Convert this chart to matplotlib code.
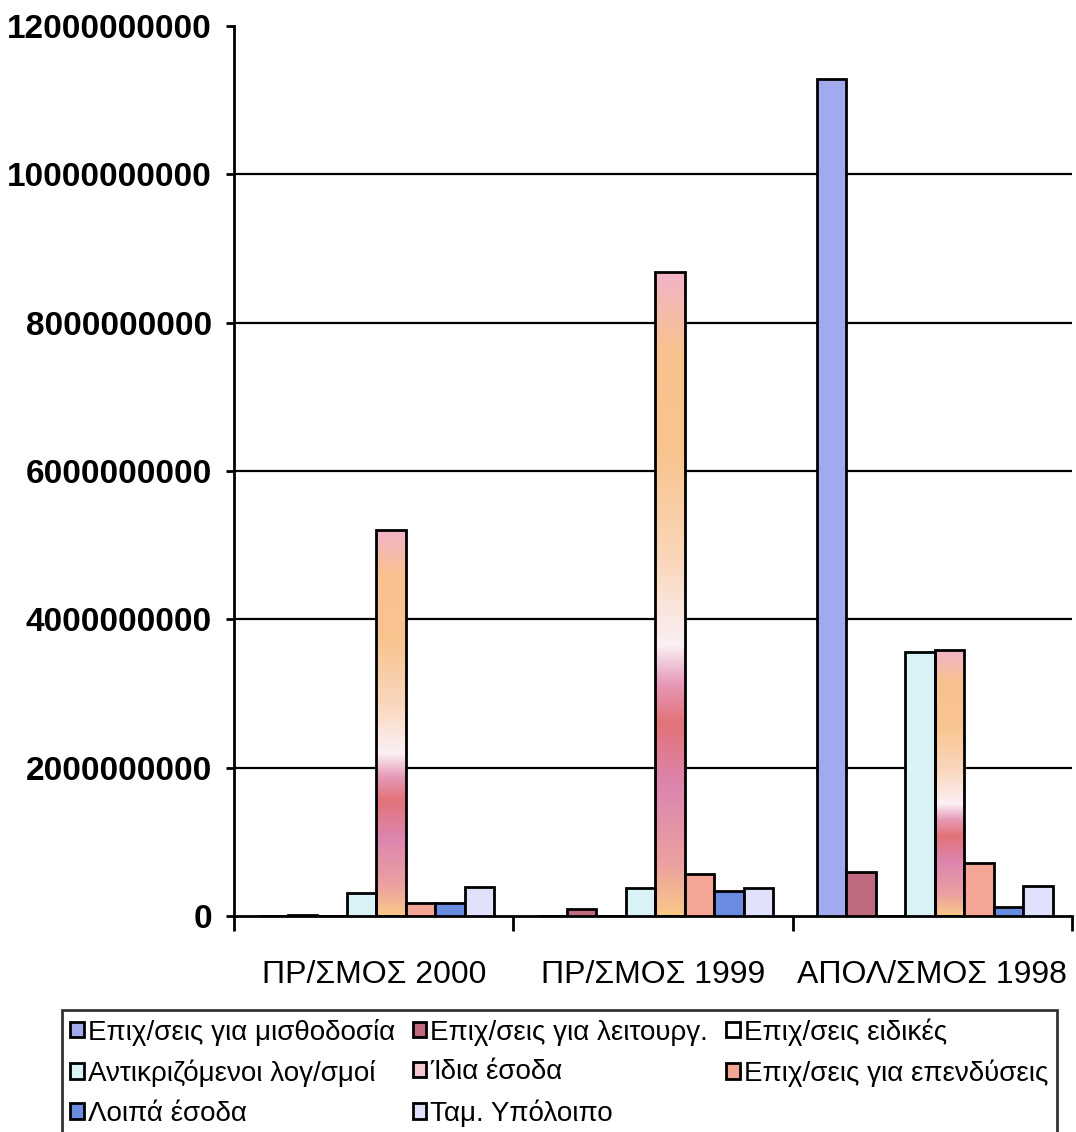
import numpy as np
import matplotlib
matplotlib.use("Agg")
import matplotlib.pyplot as plt
from matplotlib.colors import LinearSegmentedColormap
from matplotlib.patches import Patch

plt.rcParams['font.family'] = ['Liberation Sans', 'DejaVu Sans']

groups = ["ΠΡ/ΣΜΟΣ 2000", "ΠΡ/ΣΜΟΣ 1999", "ΑΠΟΛ/ΣΜΟΣ 1998"]
series = [
    "Επιχ/σεις για μισθοδοσία",
    "Επιχ/σεις για λειτουργ.",
    "Επιχ/σεις ειδικές",
    "Αντικριζόμενοι λογ/σμοί",
    "Ίδια έσοδα",
    "Επιχ/σεις για επενδύσεις",
    "Λοιπά έσοδα",
    "Ταμ. Υπόλοιπο",
]
misthodosia = [0, 0, 11290000000]
leitourg = [15000000, 90000000, 590000000]
eidikes = [0, 0, 0]
antikrizomenoi = [315000000, 374000000, 3560000000]
idia_esoda = [5210000000, 8690000000, 3590000000]
ependyseis = [170000000, 562000000, 710000000]
loipa_esoda = [180000000, 337000000, 117000000]
tam_ypoloipo = [395000000, 382000000, 408000000]
values = [misthodosia, leitourg, eidikes, antikrizomenoi,
          idia_esoda, ependyseis, loipa_esoda, tam_ypoloipo]
yticks = [0, 2000000000, 4000000000, 6000000000, 8000000000,
          10000000000, 12000000000]

colors = ["#a1a9ef", "#c06a80", "#ffffff", "#d9f2f6",
          "#f6c8d2", "#f5a596", "#6a8ce0", "#dfe2fa"]

# gradient used inside the "Ίδια έσοδα" bars (bottom -> top)
fire = LinearSegmentedColormap.from_list("fire", [
    (0.00, "#f9c888"),
    (0.08, "#eca0a0"),
    (0.20, "#dd86b0"),
    (0.30, "#e27378"),
    (0.36, "#e69ab8"),
    (0.42, "#fbf0f5"),
    (0.55, "#fad7bc"),
    (0.72, "#f8c48e"),
    (0.88, "#f8c290"),
    (1.00, "#f2b4c8"),
])

fig = plt.figure(figsize=(10.76, 11.32), dpi=100)
ax = fig.add_axes([0.2175, 0.1908, 0.7788, 0.7862])

n = len(series)
width = 0.1056
x = np.arange(len(groups)) + 0.5085
for i, (name, vals) in enumerate(zip(series, values)):
    pos = x + (i - (n - 1) / 2) * width
    bars = ax.bar(pos, vals, width=width, color=colors[i], edgecolor="black",
                  linewidth=2, zorder=3, label=name)
    if name == "Ίδια έσοδα":
        grad = np.linspace(1, 0, 256).reshape(-1, 1)
        for b in bars:
            b.set_facecolor("none")
            x0, w, h = b.get_x(), b.get_width(), b.get_height()
            im = ax.imshow(grad, cmap=fire, aspect="auto",
                           extent=(x0, x0 + w, 0, h), zorder=2.5,
                           interpolation="bilinear")
            im.set_clip_path(b)

ax.set_xlim(0, 3)
ax.set_ylim(0, 12000000000)
ax.set_yticks(yticks)
ax.set_yticklabels([str(v) for v in yticks], fontsize=24, fontweight="bold")
ax.set_xticks([0, 1, 2, 3])
ax.set_xticklabels([])
ax.set_xticks(np.arange(len(groups)) + 0.5, minor=True)
ax.set_xticklabels(groups, minor=True, fontsize=23)
ax.tick_params(axis="x", which="major", length=11, width=2, direction="out")
ax.tick_params(axis="x", which="minor", length=0, pad=32)
ax.tick_params(axis="y", length=6, width=2, pad=10)
for yv in yticks[1:-1]:
    ax.axhline(yv, color="black", linewidth=1.6, zorder=1)
for s in ["top", "right"]:
    ax.spines[s].set_visible(False)
ax.spines["left"].set_linewidth(2)
ax.spines["bottom"].set_linewidth(2)

# legend filled column by column: reorder so it reads row by row
order = [0, 3, 6, 1, 4, 7, 2, 5]
handles = [Patch(facecolor=colors[i], edgecolor="black", linewidth=2)
           for i in order]
labels = [series[i] for i in order]
leg = fig.legend(handles, labels, ncol=3, loc="upper left",
                 bbox_to_anchor=(0.0576, 0.108),
                 fontsize=20, frameon=True, fancybox=False,
                 edgecolor="black",
                 handlelength=0.48, handleheight=0.48, handletextpad=0.15,
                 labelspacing=0.5, borderaxespad=0.0, borderpad=0.3,
                 columnspacing=0.65)
leg.get_frame().set_linewidth(2)

fig.savefig("out.png", dpi=100, facecolor="white")
